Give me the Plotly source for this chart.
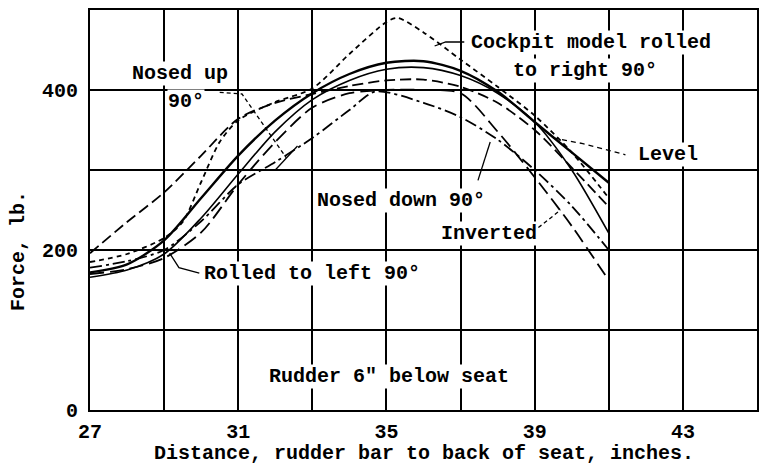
import plotly.graph_objects as go

# Distance, rudder bar to back of seat (inches)
x_std = [27, 28, 29, 30, 31, 32, 33, 34, 35, 36, 37, 38, 39, 40, 41]

# Force (lb) for each cockpit attitude
level = [172, 182, 212, 265, 318, 362, 396, 420, 434, 436, 424, 398, 360, 322, 284]
rolled_left = [166, 175, 195, 240, 295, 348, 388, 412, 426, 428, 418, 396, 360, 300, 221]
nosed_up = [196, 235, 272, 318, 364, 384, 395, 405, 412, 413, 404, 384, 350, 303, 254]
inverted = [170, 176, 190, 222, 282, 335, 378, 396, 400, 400, 396, 348, 291, 230, 162]

x_right = [27, 28, 29, 29.5, 30, 30.5, 31, 32, 33, 34, 35, 35.3, 36, 37, 38, 39, 40, 41]
rolled_right = [185, 195, 215, 235, 285, 335, 362, 385, 402, 445, 485, 490, 472, 438, 404, 368, 322, 265]

x_down = [27, 28, 29, 30, 31, 32, 33, 34, 34.7, 36, 37, 38, 39, 40, 41]
nosed_down = [178, 186, 200, 236, 282, 310, 340, 375, 398, 384, 366, 338, 300, 255, 200]

x_ticks = [27, 29, 31, 33, 35, 37, 39, 41, 43, 45]
x_ticktext = ["27", "", "31", "", "35", "", "39", "", "43", ""]
y_ticks = [0, 100, 200, 300, 400, 500]
y_ticktext = ["0", "", "200", "", "400", ""]

FONT = "Liberation Mono"
FS = 20

fig = go.Figure()
series = [
    (x_std, level, "solid", 2.4),
    (x_std, rolled_left, "solid", 1.6),
    (x_std, nosed_up, "11px,5px", 1.8),
    (x_std, inverted, "14px,6px", 1.8),
    (x_right, rolled_right, "5px,4px", 1.8),
    (x_down, nosed_down, "12px,4px,3px,4px", 1.8),
]
for xs, ys, dash, w in series:
    fig.add_trace(go.Scatter(
        x=xs, y=ys, mode="lines",
        line=dict(color="black", width=w, dash=dash, shape="spline", smoothing=0.8),
        showlegend=False, hoverinfo="skip"))

# Leader lines (annotation graphics)
leaders = [
    ([30.5, 31.1, 32.3], [397, 395, 315], "4px,3px"),
    ([32.0, 32.6], [300, 330], "solid"),
    ([37.1, 36.6, 36.3], [460, 460, 455], "solid"),
    ([39.5, 40.3, 41.45], [340, 333, 319], "5px,4px"),
    ([37.47, 37.8], [287, 335], "solid"),
    ([39.1, 39.7], [228, 250], "4px,3px"),
    ([29.95, 29.4, 29.15], [171, 178, 196], "solid"),
]
for lx, ly, dash in leaders:
    fig.add_trace(go.Scatter(x=lx, y=ly, mode="lines",
                             line=dict(color="black", width=1.3, dash=dash),
                             showlegend=False, hoverinfo="skip"))

labels = [
    ("Nosed up", 29.42, 421, "center"),
    ("90°", 29.6, 386, "center"),
    ("Cockpit model rolled", 40.51, 460, "center"),
    ("to right 90°", 40.35, 425, "center"),
    ("Level", 42.6, 319, "center"),
    ("Nosed down 90°", 35.4, 262, "center"),
    ("Inverted", 37.77, 221, "center"),
    ("Rolled to left 90°", 30.04, 171, "left"),
    ("Rudder 6\" below seat", 35.06, 42, "center"),
]
for t, ax_, ay_, anc in labels:
    fig.add_annotation(x=ax_, y=ay_, text="<b>%s</b>" % t, showarrow=False,
                       xanchor=anc, yanchor="middle",
                       font=dict(family=FONT, size=FS, color="black"),
                       bgcolor="white", borderpad=0)

fig.add_annotation(x=-0.108, y=0.3975, xref="paper", yref="paper",
                   text="<b>Force, lb.</b>", textangle=-90, showarrow=False,
                   xanchor="center", yanchor="middle",
                   font=dict(family=FONT, size=FS, color="black"))
fig.add_annotation(x=0.5, y=-0.1075, xref="paper", yref="paper",
                   text="<b>Distance, rudder bar to back of seat, inches.</b>",
                   showarrow=False, xanchor="center", yanchor="middle",
                   font=dict(family=FONT, size=FS, color="black"))

fig.update_layout(
    width=760, height=474,
    margin=dict(l=90, r=3, t=10, b=64),
    paper_bgcolor="white", plot_bgcolor="white",
    font=dict(family=FONT, size=FS, color="black"),
    xaxis=dict(range=[27, 45], tickvals=x_ticks, ticktext=x_ticktext,
               showgrid=True, gridcolor="black", gridwidth=2,
               showline=True, linecolor="black", linewidth=2, mirror=True,
               ticks="", zeroline=False, automargin=False, ticklabelstandoff=2,
               tickfont=dict(family=FONT, size=FS, color="black", weight="bold")),
    yaxis=dict(range=[0, 500], tickvals=y_ticks, ticktext=y_ticktext,
               showgrid=True, gridcolor="black", gridwidth=2,
               showline=True, linecolor="black", linewidth=2, mirror=True,
               ticks="", zeroline=False, automargin=False, ticklabelstandoff=6,
               tickfont=dict(family=FONT, size=FS, color="black", weight="bold")),
)

fig.write_html("out.html", config={"displayModeBar": False},
               post_script="document.body.style.margin='0px';document.body.style.overflow='hidden';")
